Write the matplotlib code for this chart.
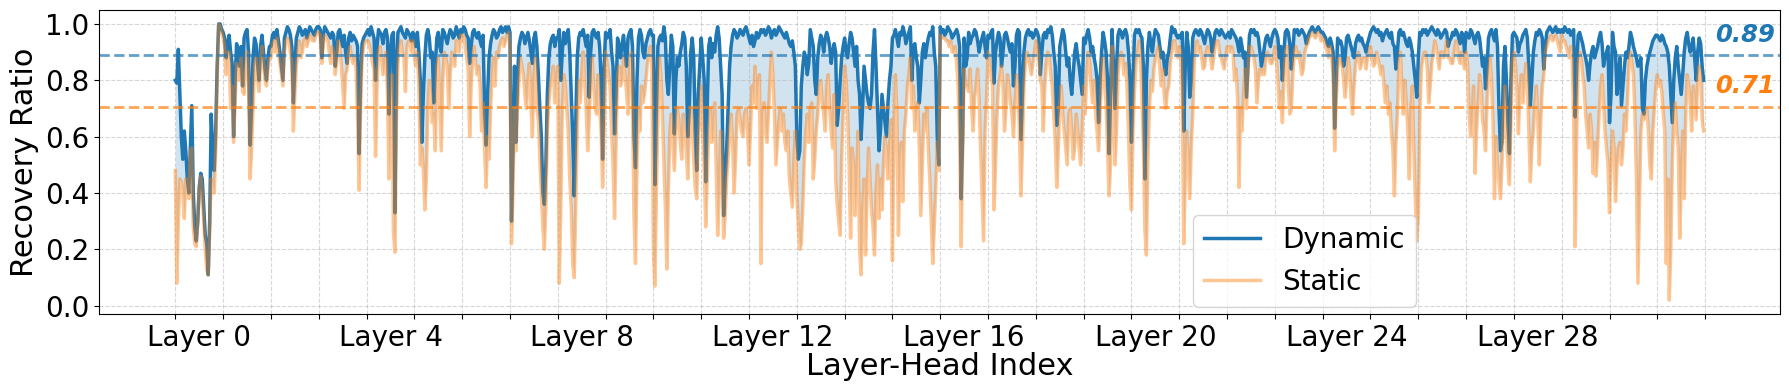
import matplotlib
matplotlib.use('Agg')
import matplotlib.pyplot as plt
import numpy as np

# recovery ratio per head, in percent, 32 heads per layer (layers 0..31)
dynamic = [
    80,79,91,75,60,52,62,55,45,40,55,71,40,28,23,30,42,47,45,35,25,22,11,30,68,55,48,62,85,100,100,98,
    97,95,88,93,96,90,86,60,80,93,90,85,92,78,95,97,98,90,57,70,88,95,93,86,80,92,96,90,84,80,88,92,
    92,96,97,95,98,94,90,85,80,95,97,99,98,96,92,72,85,95,97,99,98,96,97,98,95,97,99,98,97,96,98,99,
    99,98,88,96,99,98,97,96,95,97,96,85,90,97,98,95,92,96,90,86,95,97,94,96,95,94,92,54,80,93,95,96,
    97,98,96,99,97,95,80,92,98,97,96,93,97,98,95,68,90,96,97,33,85,97,98,99,97,96,95,98,97,96,94,97,
    95,92,97,90,80,58,75,88,96,98,95,88,90,72,85,95,97,92,90,98,97,95,93,96,98,97,95,96,99,97,95,98,
    97,99,98,96,95,86,92,97,98,96,95,97,94,92,96,70,57,75,88,93,96,98,97,95,96,98,99,97,98,99,97,99,
    97,30,55,85,58,80,92,95,97,96,93,95,97,94,90,86,95,97,92,82,70,60,40,36,50,75,88,93,95,96,92,95,
    95,98,80,90,97,93,96,98,90,75,60,39,65,88,95,97,96,98,95,92,96,74,90,97,98,96,95,97,92,80,52,85,
    97,95,96,98,90,85,61,75,95,92,88,93,96,90,85,95,97,98,92,60,49,80,95,98,96,90,88,93,95,97,98,96,
    96,43,70,92,95,96,94,99,95,80,75,85,96,92,61,80,88,85,90,93,97,95,85,60,70,90,95,88,62,48,75,85,
    95,88,80,44,70,92,95,88,93,90,96,99,95,85,75,32,45,55,70,85,92,96,98,97,95,96,98,97,96,98,99,97,
    95,93,96,92,94,97,95,96,98,97,98,96,97,99,98,95,97,98,96,97,99,98,97,96,95,97,95,93,92,94,90,85,
    60,52,55,78,85,90,88,82,86,98,95,92,80,75,88,93,96,94,90,95,97,95,92,86,90,93,90,64,70,80,88,92,
    95,90,88,93,97,95,90,85,92,80,75,59,70,85,80,75,72,70,75,90,98,85,70,55,62,75,70,65,60,72,80,85,
    95,96,98,95,92,97,96,99,97,93,95,97,99,80,92,93,88,85,72,80,90,93,88,92,95,97,96,99,90,85,60,50,
    99,97,98,96,97,99,98,97,95,96,97,98,96,92,38,60,95,85,88,97,93,95,96,98,97,94,90,93,95,97,92,88,
    96,95,97,98,79,90,94,97,95,85,90,96,97,95,92,90,93,78,85,96,98,97,59,75,90,95,97,98,96,97,95,96,
    98,97,95,82,90,96,97,95,98,97,99,96,90,85,64,70,92,95,98,96,90,85,88,80,75,82,90,93,88,85,80,75,
    95,93,96,98,95,90,92,88,85,80,65,80,90,97,94,90,80,54,75,98,85,70,85,96,98,97,95,97,98,96,90,80,
    58,80,96,98,97,98,96,95,85,45,80,92,97,93,90,95,98,97,96,92,88,90,85,82,88,90,95,99,97,98,96,95,
    96,95,97,62,85,97,92,74,80,95,97,98,97,96,98,97,95,93,96,98,97,95,90,93,97,98,97,96,98,97,96,95,
    96,97,95,98,97,96,95,93,90,95,92,88,90,74,85,96,98,97,98,96,97,95,90,85,88,92,95,96,94,92,95,97,
    98,97,95,88,92,80,90,97,98,97,93,84,90,98,97,98,96,97,98,97,96,93,95,97,98,99,98,97,98,99,98,97,
    97,96,95,93,92,95,93,90,63,80,95,93,94,92,85,88,95,96,94,92,90,88,93,95,96,94,95,93,92,90,93,95,
    97,98,99,98,97,98,96,97,94,96,97,98,96,95,97,93,92,84,90,97,98,96,97,95,93,92,95,93,90,85,80,74,
    88,97,96,98,97,98,96,97,98,99,98,97,96,98,97,95,96,97,98,97,92,94,95,97,96,98,97,95,93,97,96,90,
    97,96,95,98,97,95,93,96,97,95,90,85,88,77,85,95,97,98,96,94,98,92,70,55,58,85,92,80,65,54,80,96,
    97,96,95,90,93,94,96,97,98,95,85,71,80,90,94,97,96,98,97,95,84,92,97,98,99,98,97,98,99,97,98,97,
    98,97,99,98,97,98,96,97,98,67,85,96,97,95,93,90,88,85,80,86,90,92,88,90,92,95,97,93,85,88,90,92,
    65,75,97,92,90,75,82,88,71,78,85,90,88,92,97,95,92,90,88,85,86,88,70,68,80,85,88,90,92,94,95,96,
    96,95,94,96,95,93,92,90,85,75,65,80,88,92,85,80,75,82,90,95,97,93,90,92,95,88,80,90,95,93,85,80,
]

static = [
    48,8,30,45,44,40,31,45,44,38,55,56,28,22,21,30,42,46,40,30,20,13,11,28,45,42,40,55,80,100,99,97,
    95,92,82,90,90,70,78,58,72,86,85,80,88,76,75,85,90,80,45,55,70,85,88,80,76,86,92,86,80,78,84,88,
    88,92,94,90,95,90,86,82,78,90,94,95,94,90,86,62,75,85,90,94,88,90,94,95,92,94,96,95,94,94,96,97,
    97,96,86,93,96,95,94,90,86,92,90,82,86,94,92,86,78,70,82,84,90,92,88,86,88,84,66,41,70,88,92,94,
    94,94,92,90,86,84,53,78,90,92,88,82,86,90,76,45,66,82,26,19,66,86,92,94,90,88,76,92,94,94,90,94,
    88,85,90,78,50,56,48,34,45,70,80,75,65,68,55,85,88,72,55,80,90,88,85,70,82,90,88,85,94,94,90,96,
    94,96,92,88,84,60,78,88,92,86,82,85,78,62,72,55,42,60,52,70,82,88,78,90,88,92,94,95,92,94,96,97,
    92,22,40,70,55,70,80,88,85,82,75,70,80,86,72,60,82,88,70,66,52,40,28,20,35,62,72,78,82,85,72,80,
    85,8,35,70,82,78,70,62,45,35,15,10,35,62,80,72,82,90,80,70,55,66,80,88,78,70,68,82,70,62,42,62,
    90,86,82,78,62,50,31,58,82,85,78,80,88,82,76,68,86,90,72,32,15,50,70,62,78,72,75,80,86,90,92,84,
    20,7,40,68,88,82,68,52,35,13,40,62,68,58,48,62,70,66,58,52,68,62,55,45,62,70,66,52,42,38,58,68,
    78,62,50,28,45,62,70,58,62,72,50,25,40,62,50,24,32,45,52,62,68,58,40,52,68,70,66,62,60,68,70,62,
    50,62,78,72,85,70,78,82,15,68,72,62,58,68,80,90,82,68,50,58,66,70,62,68,58,55,62,45,40,35,52,62,
    40,28,20,22,35,52,62,68,58,70,72,45,52,62,68,78,80,72,68,62,78,82,70,62,56,75,45,36,30,25,52,68,
    85,80,68,50,24,56,50,32,45,62,20,11,34,45,18,40,56,45,34,28,18,40,50,31,45,34,50,60,55,45,56,66,
    16,58,82,68,25,52,58,37,62,68,78,82,88,70,78,62,68,72,56,32,50,68,62,70,56,45,30,15,28,42,58,48,
    96,95,95,95,94,94,92,94,90,90,92,86,78,60,21,55,84,78,78,76,84,70,62,74,78,84,74,56,40,23,62,74,
    90,86,82,78,34,50,68,78,82,85,78,62,70,82,78,72,68,60,72,82,78,62,39,56,78,86,90,88,85,82,86,90,
    94,92,88,80,78,62,78,86,90,88,82,78,68,58,42,55,72,78,68,62,56,50,68,70,62,52,56,68,62,56,50,62,
    78,68,82,90,86,78,72,80,68,62,55,68,82,88,78,72,56,39,50,92,68,50,62,82,88,90,88,82,86,78,62,42,
    34,62,76,86,90,94,88,74,56,27,18,52,70,80,76,84,88,90,92,84,78,84,74,70,76,78,86,90,94,94,90,88,
    92,90,76,22,45,62,50,38,56,68,86,92,94,90,92,88,84,85,90,92,90,88,84,88,92,94,94,90,88,86,84,88,
    92,92,90,92,90,80,84,74,42,70,62,76,84,70,84,92,92,90,88,84,72,80,84,82,84,82,88,90,88,86,86,88,
    92,88,80,70,76,65,80,90,92,78,68,70,82,90,92,88,90,86,82,84,90,92,93,95,96,97,96,95,96,97,96,94,
    95,94,92,90,88,92,88,82,55,72,84,88,86,86,80,74,80,88,84,74,68,78,86,88,90,84,86,88,88,84,88,90,
    92,88,85,86,90,88,85,82,85,78,72,78,68,72,62,55,39,58,68,86,90,78,68,80,72,62,45,70,78,56,38,23,
    31,66,84,88,90,90,84,72,78,86,90,94,92,88,84,90,90,88,90,94,88,88,86,86,90,94,92,88,86,90,86,84,
    90,86,68,60,66,78,47,62,72,82,78,66,62,55,72,82,88,80,66,38,60,50,44,38,50,68,78,60,50,43,66,86,
    90,86,76,61,76,82,72,80,86,78,62,44,56,62,72,78,66,50,66,78,82,90,92,94,95,96,94,95,96,94,92,90,
    96,94,94,92,90,88,92,88,66,21,60,86,90,88,82,78,68,62,56,68,62,47,58,46,56,68,78,82,72,62,56,50,
    33,50,62,56,37,50,56,58,50,56,68,62,72,86,90,86,82,68,45,8,35,62,68,66,68,70,62,50,45,62,70,78,
    82,78,80,76,68,62,15,45,2,20,50,68,72,62,56,24,45,62,38,68,82,78,72,62,78,72,66,80,85,82,66,62,
]

n_layers = 32
n_heads = 32
label_layers = [0, 4, 8, 12, 16, 20, 24, 28]

dyn = np.array(dynamic) / 100
sta = np.array(static) / 100
x = np.arange(len(dyn))
dyn_mean = dyn.mean()
sta_mean = sta.mean()

fig = plt.figure(figsize=(17.89, 3.9), dpi=100)
ax = fig.add_axes([0.0553, 0.195, 0.9397, 0.779])

ax.plot(x, dyn, color='#1f77b4', lw=2.5, label='Dynamic')
ax.plot(x, sta, color='#ff7f0e', lw=2.5, alpha=0.45, label='Static')
ax.fill_between(x, sta, dyn, color='#1f77b4', alpha=0.2, lw=0)

ax.axhline(dyn_mean, color='#1f77b4', ls='--', lw=2, alpha=0.7)
ax.axhline(sta_mean, color='#ff7f0e', ls='--', lw=2, alpha=0.7)
ax.text(1071, dyn_mean + 0.03, f'{dyn_mean:.2f}', color='#1f77b4', fontsize=17.5,
        fontweight='bold', fontstyle='italic', ha='right', va='bottom')
ax.text(1071, sta_mean + 0.03, f'{sta_mean:.2f}', color='#ff7f0e', fontsize=17.5,
        fontweight='bold', fontstyle='italic', ha='right', va='bottom')

ax.set_xticks(np.arange(0, n_layers * n_heads + 1, n_heads))
ax.set_xticklabels([])
ax.set_xticks([l * n_heads + n_heads / 2 for l in label_layers], minor=True)
ax.set_xticklabels([f'Layer {l}' for l in label_layers], minor=True)
ax.tick_params(axis='x', which='minor', length=0, pad=7, labelsize=20)
ax.set_yticks(np.arange(0, 1.01, 0.2))
ax.set_yticklabels([f'{v:.1f}' for v in np.arange(0, 1.01, 0.2)])
ax.tick_params(axis='y', labelsize=20)
ax.grid(True, which='major', linestyle='--', alpha=0.5)

ax.set_xlabel('Layer-Head Index', fontsize=22, labelpad=0)
ax.set_ylabel('Recovery Ratio', fontsize=22)

ax.legend(loc='lower left', bbox_to_anchor=(0.651, 0.023), borderaxespad=0, fontsize=20)

fig.savefig('out.png', dpi=100)
